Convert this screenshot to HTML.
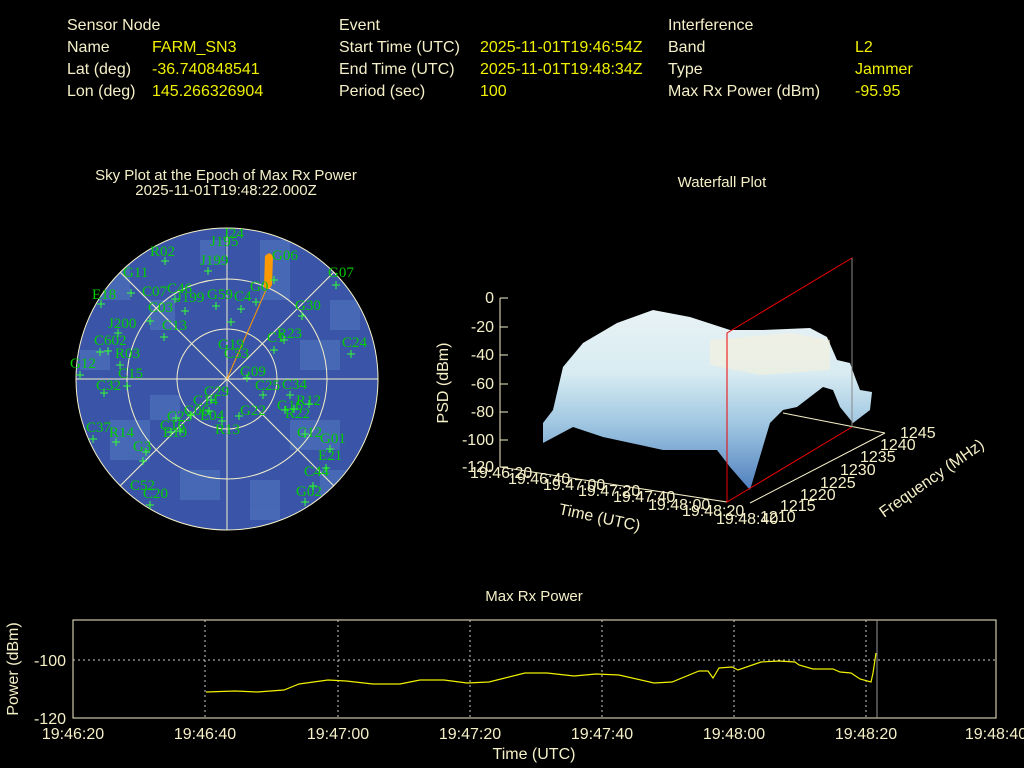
<!DOCTYPE html>
<html><head><meta charset="utf-8"><style>
body{margin:0;background:#000;width:1024px;height:768px;overflow:hidden}
svg{display:block}
text{font-family:"Liberation Sans",sans-serif;font-size:16px}
.y{fill:#f0f000}.w{fill:#f5f0c8}.g{fill:#0c0}
.g text{font-family:"Liberation Serif",serif;font-size:15px}
</style></head><body>
<svg width="1024" height="768" viewBox="0 0 1024 768">
<defs>
<linearGradient id="sf" x1="0" y1="0" x2="0" y2="1">
<stop offset="0" stop-color="#e8f2f5"/><stop offset="0.35" stop-color="#d8ecf2"/><stop offset="0.65" stop-color="#9cc4e0"/><stop offset="1" stop-color="#4f7fbe"/></linearGradient>
<clipPath id="cc"><circle cx="227" cy="379" r="151"/></clipPath>
</defs>
<!-- header -->
<g class="w">
<text x="67" y="30">Sensor Node</text><text x="67" y="52">Name</text><text x="67" y="74">Lat (deg)</text><text x="67" y="96">Lon (deg)</text>
<text x="339" y="30">Event</text><text x="339" y="52">Start Time (UTC)</text><text x="339" y="74">End Time (UTC)</text><text x="339" y="96">Period (sec)</text>
<text x="668" y="30">Interference</text><text x="668" y="52">Band</text><text x="668" y="74">Type</text><text x="668" y="96">Max Rx Power (dBm)</text>
</g>
<g class="y">
<text x="152" y="52">FARM_SN3</text><text x="152" y="74">-36.740848541</text><text x="152" y="96">145.266326904</text>
<text x="480" y="52">2025-11-01T19:46:54Z</text><text x="480" y="74">2025-11-01T19:48:34Z</text><text x="480" y="96">100</text>
<text x="855" y="52">L2</text><text x="855" y="74">Jammer</text><text x="855" y="96">-95.95</text>
</g>
<!-- sky plot -->
<text class="w" x="226" y="180" text-anchor="middle" style="font-size:15px">Sky Plot at the Epoch of Max Rx Power</text>
<text class="w" x="226" y="195" text-anchor="middle" style="font-size:15px">2025-11-01T19:48:22.000Z</text>
<circle cx="227" cy="379" r="151" fill="#3a55a8"/>
<g clip-path="url(#cc)" fill="#4a6cb6" opacity="0.9">
<rect x="100" y="260" width="30" height="40"/><rect x="150" y="300" width="25" height="30"/><rect x="260" y="240" width="30" height="60"/><rect x="300" y="340" width="40" height="30"/><rect x="290" y="420" width="50" height="30"/><rect x="110" y="420" width="40" height="40"/><rect x="180" y="470" width="40" height="30"/><rect x="250" y="480" width="30" height="40"/><rect x="80" y="350" width="30" height="20"/><rect x="330" y="300" width="30" height="30"/><rect x="200" y="240" width="25" height="25"/><rect x="150" y="395" width="30" height="25"/><rect x="320" y="470" width="30" height="25"/>
</g>
<g fill="none" stroke="#f5f0c8" stroke-width="1">
<circle cx="227" cy="379" r="151"/><circle cx="227" cy="379" r="100"/><circle cx="227" cy="379" r="50"/>
<line x1="76" y1="379" x2="378" y2="379"/><line x1="227" y1="228" x2="227" y2="530"/>
<line x1="120" y1="272" x2="334" y2="486"/><line x1="334" y1="272" x2="120" y2="486"/>
</g>
<line x1="227" y1="379" x2="266" y2="290" stroke="#f90" stroke-width="1"/>
<path d="M265 256 Q271 250 273 258 L272 285 Q268 292 264 287 Z" fill="#f90"/>
<g class="g">
<text x="223" y="238">J24</text><text x="210" y="246">J195</text><text x="150" y="256">R02</text><text x="200" y="265">J199</text><text x="272" y="260">G06</text><text x="328" y="277">G07</text>
<text x="123" y="277">G11</text><text x="92" y="299">E18</text><text x="142" y="296">C07</text><text x="167" y="293">C46</text><text x="176" y="302">J199</text><text x="207" y="299">G59</text><text x="234" y="301">C4</text><text x="250" y="291">G0</text>
<text x="148" y="312">C03</text><text x="162" y="330">C13</text><text x="295" y="310">G30</text><text x="108" y="328">J200</text><text x="94" y="345">C602</text><text x="115" y="358">R03</text>
<text x="218" y="349">G19</text><text x="224" y="358">C53</text><text x="267" y="342">C1</text><text x="277" y="338">R23</text><text x="342" y="347">C24</text><text x="70" y="368">G12</text><text x="118" y="378">C15</text>
<text x="240" y="376">G09</text><text x="96" y="390">C32</text><text x="255" y="390">C25</text><text x="282" y="389">C34</text><text x="204" y="396">C29</text><text x="296" y="405">R12</text>
<text x="193" y="405">C14</text><text x="277" y="410">G16</text><text x="240" y="415">G22</text><text x="184" y="415">C06</text><text x="200" y="420">E04</text><text x="167" y="421">C23</text><text x="285" y="418">R22</text>
<text x="86" y="432">C37</text><text x="109" y="437">R14</text><text x="160" y="430">C16</text><text x="163" y="437">E19</text><text x="215" y="434">R13</text><text x="297" y="437">C12</text><text x="320" y="443">G01</text>
<text x="133" y="451">G3</text><text x="318" y="460">E21</text><text x="304" y="476">C44</text><text x="130" y="490">C52</text><text x="143" y="498">C20</text><text x="296" y="496">G02</text>
</g>
<g stroke="#3f3" stroke-width="1">
<path d="M165 257v8M161 261h8M208 267v8M204 271h8M274 276v8M270 280h8M336 281v8M332 285h8M101 300v8M97 304h8M131 289v8M127 293h8M175 295v8M171 299h8M185 307v8M181 311h8M216 302v8M212 306h8M241 305v8M237 309h8M256 298v8M252 302h8M150 317v8M146 321h8M164 333v8M160 337h8M302 312v8M298 316h8M118 329v8M114 333h8M100 348v8M96 352h8M108 347v8M104 351h8M120 361v8M116 365h8M231 318v8M227 322h8M274 346v8M270 350h8M284 336v8M280 340h8M351 350v8M347 354h8M80 371v8M76 375h8M127 382v8M123 386h8M104 389v8M100 393h8M247 374v8M243 378h8M263 391v8M259 395h8M290 391v8M286 395h8M309 400v8M305 404h8M211 396v8M207 400h8M294 405v8M290 409h8M239 412v8M235 416h8M191 411v8M187 415h8M209 407v8M205 411h8M176 414v8M172 418h8M285 406v8M281 410h8M93 435v8M89 439h8M116 438v8M112 442h8M171 428v8M167 432h8M180 427v8M176 431h8M222 417v8M218 421h8M305 430v8M301 434h8M330 445v8M326 449h8M146 448v8M142 452h8M326 464v8M322 468h8M313 482v8M309 486h8M143 457v8M139 461h8M150 501v8M146 505h8M305 498v8M301 502h8"/>
</g>
<!-- waterfall -->
<text class="w" x="722" y="187" text-anchor="middle" style="font-size:15px">Waterfall Plot</text>
<g stroke="#f5f0c8" fill="none" stroke-width="1">
<line x1="500" y1="298" x2="500" y2="467"/>
<path d="M500 298h8M500 327h8M500 355h8M500 384h8M500 412h8M500 440h8M500 467h8"/>
<line x1="500" y1="467" x2="727" y2="502"/>
<line x1="750" y1="503" x2="885" y2="433"/>
<line x1="783" y1="413" x2="885" y2="433"/>
</g>
<polygon fill="url(#sf)" points="543,423 553,410 563,367 583,343 617,323 653,310 690,317 730,330 763,330 810,328 827,337 837,360 850,363 855,377 860,390 872,392 870,410 853,423 840,407 833,390 823,387 797,407 783,410 770,423 750,490 730,467 717,450 663,450 603,437 573,427 543,443"/>
<polygon fill="#fbf2d8" opacity="0.5" points="710,340 790,333 830,340 830,370 760,375 710,365"/>
<g stroke="#e00" fill="none" stroke-width="1">
<path d="M727 333 L852 258 L852 427 L727 502 Z"/>
</g>
<line x1="852" y1="258" x2="852" y2="427" stroke="#888"/>
<g class="w" text-anchor="end">
<text x="494" y="303">0</text><text x="494" y="332">-20</text><text x="494" y="360">-40</text><text x="494" y="389">-60</text><text x="494" y="417">-80</text><text x="494" y="445">-100</text><text x="494" y="472">-120</text>
</g>
<text class="w" transform="translate(448,383) rotate(-90)" text-anchor="middle">PSD (dBm)</text>
<g class="w">
<text x="470" y="478">19:46:20</text><text x="508" y="484">19:46:40</text><text x="543" y="490">19:47:00</text><text x="578" y="496">19:47:20</text><text x="613" y="502">19:47:40</text><text x="648" y="510">19:48:00</text><text x="682" y="516">19:48:20</text><text x="716" y="524">19:48:40</text>
<text x="760" y="522">1210</text><text x="780" y="511">1215</text><text x="800" y="500">1220</text><text x="820" y="488">1225</text><text x="840" y="475">1230</text><text x="860" y="462">1235</text><text x="880" y="450">1240</text><text x="900" y="438">1245</text>
<text transform="translate(558,514) rotate(12)">Time (UTC)</text>
<text transform="translate(884,518) rotate(-35)">Frequency (MHz)</text>
</g>
<!-- bottom -->
<text class="w" x="534" y="601" text-anchor="middle" style="font-size:15px">Max Rx Power</text>
<rect x="73" y="620" width="923" height="98" fill="none" stroke="#f5f0c8"/>
<g stroke="#ccc" stroke-dasharray="2,3" stroke-width="1">
<path d="M205 620v98M338 620v98M470 620v98M602 620v98M734 620v98M866 620v98M73 660h923"/>
</g>
<line x1="877" y1="620" x2="877" y2="718" stroke="#999"/>
<polyline fill="none" stroke="#f0f000" stroke-width="1.2" points="206,692 235,691 257,692 284,690 299,684 328,680 346,681 373,684 400,684 420,680 444,680 467,683 489,682 525,673 547,673 574,676 596,674 619,675 654,683 672,682 699,671 708,671 713,678 719,668 732,667 738,670 761,662 779,661 795,662 799,665 813,669 833,669 840,672 851,673 860,679 871,682 873,673 876,653"/>
<g class="w">
<text x="66" y="666" text-anchor="end">-100</text><text x="66" y="724" text-anchor="end">-120</text>
<text x="73" y="739" text-anchor="middle">19:46:20</text><text x="205" y="739" text-anchor="middle">19:46:40</text><text x="338" y="739" text-anchor="middle">19:47:00</text><text x="470" y="739" text-anchor="middle">19:47:20</text><text x="602" y="739" text-anchor="middle">19:47:40</text><text x="734" y="739" text-anchor="middle">19:48:00</text><text x="866" y="739" text-anchor="middle">19:48:20</text><text x="996" y="739" text-anchor="middle">19:48:40</text>
<text x="534" y="759" text-anchor="middle">Time (UTC)</text>
<text transform="translate(18,669) rotate(-90)" text-anchor="middle">Power (dBm)</text>
</g>
</svg>
</body></html>
